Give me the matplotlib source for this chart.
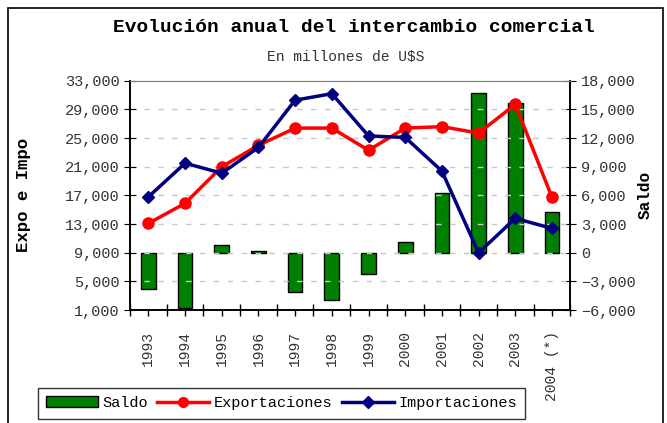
import matplotlib.pyplot as plt
import numpy as np
from matplotlib.patches import Rectangle
from matplotlib.ticker import FuncFormatter

plt.rcParams['font.family'] = ['Liberation Mono', 'DejaVu Sans']

anios = ['1993', '1994', '1995', '1996', '1997', '1998', '1999', '2000',
         '2001', '2002', '2003', '2004 (*)']
exportaciones = [13100, 15900, 21000, 24000, 26400, 26400, 23300, 26400,
                 26600, 25700, 29700, 16750]
importaciones = [16800, 21500, 20100, 23700, 30300, 31200, 25300, 25100,
                 20400, 9000, 13800, 12400]
saldo = [-3750, -5800, 850, 150, -4100, -4950, -2200, 1100,
         6250, 16700, 15700, 4300]

x = np.arange(len(anios))

fig = plt.figure(figsize=(6.67, 4.23), dpi=100)
ax = fig.add_axes([0.195, 0.267, 0.66, 0.542])
ax2 = ax.twinx()

# barras en el eje derecho, lineas en el izquierdo (por encima)
ax.set_zorder(ax2.get_zorder() + 1)
ax.patch.set_visible(False)

ax2.bar(x, saldo, width=0.4, color='#008000', edgecolor='black', linewidth=1)
ax.plot(x, exportaciones, color='red', lw=2.5, marker='o', ms=8)
ax.plot(x, importaciones, color='#000080', lw=2.5, marker='D', ms=6.5)

ax.set_xlim(-0.5, len(anios) - 0.5)
ax.set_ylim(1000, 33000)
ax2.set_ylim(-6000, 18000)
ax.set_yticks(np.arange(1000, 33001, 4000))
ax2.set_yticks(np.arange(-6000, 18001, 3000))

fmt = FuncFormatter(lambda v, p: f'{int(v):,}'.replace('-', '\u2212'))
ax.yaxis.set_major_formatter(fmt)
ax2.yaxis.set_major_formatter(fmt)

ax.set_xticks(np.arange(-0.5, len(anios), 1))
ax.set_xticklabels([])
ax.set_xticks(x, minor=True)
ax.set_xticklabels(anios, minor=True, rotation=90, fontsize=10.5)
ax.tick_params(axis='x', which='major', direction='inout', length=8, width=1)
ax.tick_params(axis='x', which='minor', direction='out', length=4, width=1,
               pad=11, labelcolor='#333333')
ax.tick_params(axis='y', direction='inout', length=8, labelsize=11,
               labelcolor='#333333')
ax2.tick_params(axis='y', direction='inout', length=8, labelsize=11,
                labelcolor='#333333')

for y in range(5000, 33000, 4000):
    ax.axhline(y, color='#c8c8c8', lw=1, ls=(0, (4, 6)), zorder=0)

ax.spines['top'].set_color('#808080')
ax2.spines['top'].set_color('#808080')
for a in (ax, ax2):
    a.spines['left'].set_linewidth(1.2)
    a.spines['right'].set_linewidth(1.2)
    a.spines['bottom'].set_linewidth(1.2)

fig.text(0.53, 0.935, 'Evolución anual del intercambio comercial',
         ha='center', va='center', fontsize=14, fontweight='bold')
fig.text(0.518, 0.865, 'En millones de U$S', ha='center', va='center',
         fontsize=10.5, color='#333333')
fig.text(0.035, 0.54, 'Expo e Impo', rotation=90, ha='center', va='center',
         fontsize=12.5, fontweight='bold')
fig.text(0.967, 0.54, 'Saldo', rotation=90, ha='center', va='center',
         fontsize=11.5, fontweight='bold')

h1 = plt.Rectangle((0, 0), 1, 1, facecolor='#008000', edgecolor='black')
h2, = ax.plot([], [], color='red', lw=2.5, marker='o', ms=7)
h3, = ax.plot([], [], color='#000080', lw=2.5, marker='D', ms=6)
fig.legend([h1, h2, h3], ['Saldo', 'Exportaciones', 'Importaciones'],
           loc='center', bbox_to_anchor=(0.422, 0.047), ncol=3,
           fontsize=11, frameon=True, fancybox=False, edgecolor='black',
           handlelength=3.4, handletextpad=0.3, columnspacing=0.6,
           borderpad=0.55)

fig.patches.append(Rectangle((8 / 667, -0.05), 655 / 667, 1 - 8 / 423 + 0.05,
                             transform=fig.transFigure, fill=False,
                             edgecolor='black', lw=1.2))

fig.savefig('out.png', dpi=100)
